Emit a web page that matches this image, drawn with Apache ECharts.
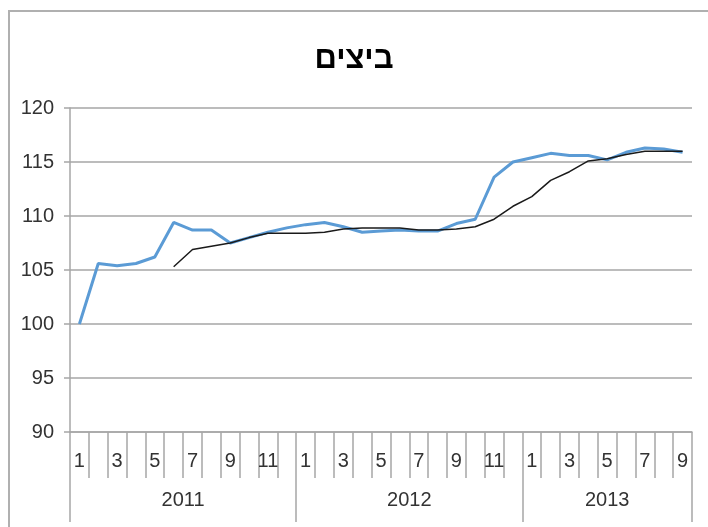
<!DOCTYPE html>
<html>
<head>
<meta charset="utf-8">
<script src="https://cdn.jsdelivr.net/npm/echarts@6/dist/echarts.min.js"></script>
<style>html,body{margin:0;padding:0;background:#fff;}#c{width:708px;height:527px;}</style>
</head>
<body>
<div id="c"></div>
<script>
const title = 'ביצים';
const monthLabels = ['1','2','3','4','5','6','7','8','9','10','11','12',
  '1','2','3','4','5','6','7','8','9','10','11','12',
  '1','2','3','4','5','6','7','8','9'];
const years = ['2011','2012','2013'];
const monthsPerYear = [12, 12, 9];
const yTicks = [90, 95, 100, 105, 110, 115, 120];
const indexSeries = [100,105.6,105.4,105.6,106.2,109.4,108.7,108.7,107.5,108.0,108.5,108.9,
  109.2,109.4,109.0,108.5,108.6,108.7,108.6,108.6,109.3,109.7,113.6,115.0,
  115.4,115.8,115.6,115.6,115.2,115.9,116.3,116.2,115.9];
const avgSeries = [null,null,null,null,null,105.3,106.9,107.2,107.5,108.0,108.4,108.4,
  108.4,108.5,108.8,108.9,108.9,108.9,108.7,108.7,108.8,109.0,109.7,110.9,
  111.8,113.3,114.1,115.1,115.3,115.7,116.0,116.0,116.0];

// year boundaries and centers on a 0..N scale
const bounds = [0];
monthsPerYear.forEach(m => bounds.push(bounds[bounds.length - 1] + m));
const centers = monthsPerYear.map((m, i) => bounds[i] + m / 2);
const total = bounds[bounds.length - 1];

const gray = '#a6a6a6';
const font = '"Liberation Sans Narrow", "Liberation Sans", Arial, sans-serif';

const chart = echarts.init(document.getElementById('c'), null, {renderer: 'canvas'});
chart.setOption({
  animation: false,
  backgroundColor: '#fff',
  graphic: [{
    type: 'rect', shape: {x: 9, y: 11, width: 800, height: 600},
    style: {fill: 'none', stroke: '#b0b0b0', lineWidth: 2}, z: -10
  }],
  title: {
    text: title, left: 'center', top: 39,
    textStyle: {fontFamily: '"Liberation Sans", Arial, sans-serif', fontWeight: 'bold', fontSize: 31, color: '#000'}
  },
  grid: {left: 70, right: 16, top: 108, bottom: 95, containLabel: false},
  xAxis: [{
    type: 'category', data: monthLabels, boundaryGap: true, position: 'bottom',
    axisLine: {show: true, lineStyle: {color: gray, width: 1.5}},
    axisTick: {show: true, interval: 0, length: 46, lineStyle: {color: gray, width: 1.5}},
    axisLabel: {
      interval: (i, v) => parseInt(v) % 2 === 1,
      margin: 19, fontFamily: font, fontSize: 20, color: '#333'
    },
    splitLine: {show: false}
  }, {
    type: 'value', min: 0, max: total, position: 'bottom',
    axisLine: {show: false},
    axisTick: {show: true, customValues: bounds, length: 90, lineStyle: {color: gray, width: 1.5}},
    axisLabel: {
      customValues: centers, margin: 58, fontFamily: font, fontSize: 20, color: '#333',
      formatter: (v) => { const i = centers.indexOf(v); return i >= 0 ? years[i] : ''; }
    },
    splitLine: {show: false}
  }],
  yAxis: {
    type: 'value', min: yTicks[0], max: yTicks[yTicks.length - 1], interval: 5,
    axisLine: {show: true, lineStyle: {color: gray, width: 1.5}},
    axisTick: {show: true, length: 6, lineStyle: {color: gray, width: 1.5}},
    axisLabel: {margin: 16, fontFamily: font, fontSize: 20, color: '#333'},
    splitLine: {show: true, lineStyle: {color: gray, width: 1.5}}
  },
  series: [{
    type: 'line', data: indexSeries, xAxisIndex: 0, symbol: 'none',
    lineStyle: {color: '#5b9bd5', width: 3}, z: 3
  }, {
    type: 'line', data: avgSeries, xAxisIndex: 0, symbol: 'none', connectNulls: false,
    lineStyle: {color: '#1a1a1a', width: 1.5}, z: 4
  }]
});
</script>
</body>
</html>
